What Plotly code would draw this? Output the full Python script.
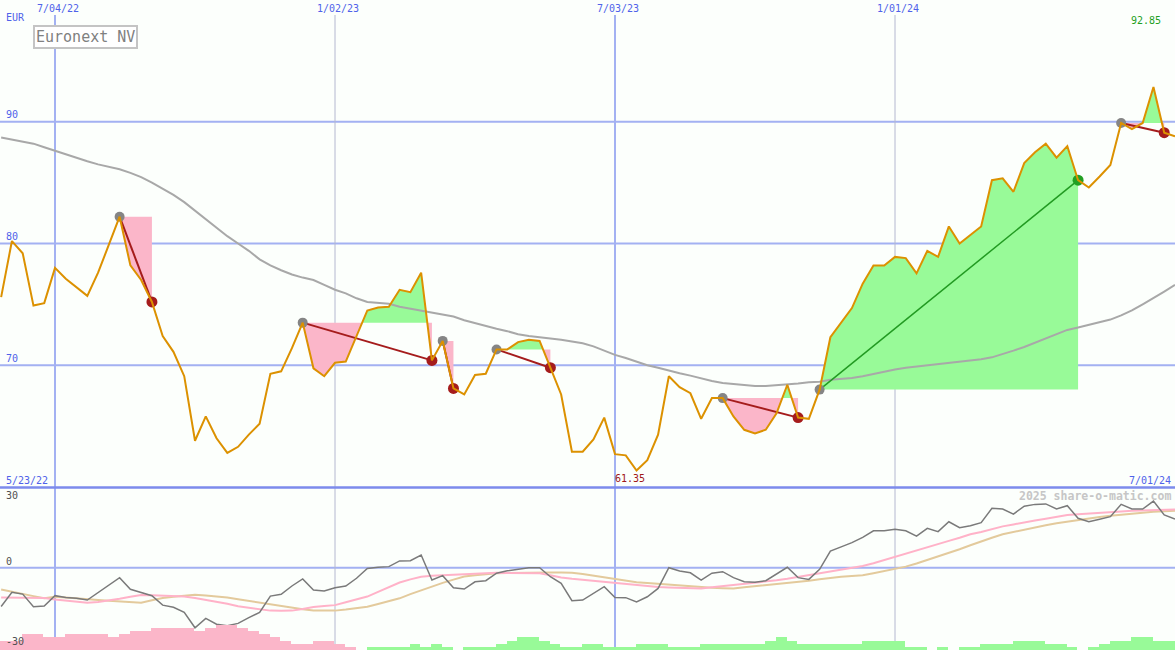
import numpy as np
import pandas as pd
import plotly.graph_objects as go

W, H = 1175, 650

# ---------------- data ----------------
start = pd.Timestamp("2022-05-30")
dates = pd.date_range(start, periods=110, freq="7D")

price = [75.6, 80.2, 79.2, 74.9, 75.1, 78.0, 77.1, 76.4, 75.7, 77.6,
         79.9, 82.2, 78.2, 77.0, 75.2, 72.4, 71.1, 69.1, 63.8, 65.8,
         64.0, 62.8, 63.3, 64.3, 65.2, 69.3, 69.5, 71.4, 73.5, 69.75,
         69.1, 70.2, 70.3, 72.35, 74.5, 74.75, 74.8, 76.2, 76.0, 77.6,
         70.4, 72.0, 68.1, 67.6, 69.2, 69.3, 71.3, 71.3, 71.9, 72.1,
         72.0, 69.8, 67.6, 62.9, 62.9, 63.9, 65.7, 62.7, 62.6, 61.35,
         62.2, 64.3, 69.1, 68.2, 67.7, 65.6, 67.3, 67.3, 65.8, 64.7,
         64.4, 64.7, 66.05, 68.4, 65.7, 65.6, 68.0, 72.3, 73.5, 74.7,
         76.7, 78.2, 78.2, 78.9, 78.8, 77.55, 79.4, 78.9, 81.4, 80.0,
         80.7, 81.4, 85.2, 85.35, 84.25, 86.6, 87.5, 88.2, 87.05, 88.0,
         85.2, 84.6, 85.5, 86.45, 89.9, 89.4, 89.9, 92.85, 89.1, 88.8]

ma = [88.7, 88.55, 88.4, 88.2, 87.9, 87.6, 87.3, 87.0, 86.75, 86.5,
      86.3, 86.1, 85.8, 85.45, 85.0, 84.5, 84.0, 83.4, 82.7, 82.0,
      81.3, 80.6, 80.0, 79.4, 78.7, 78.2, 77.8, 77.45, 77.2, 77.0,
      76.6, 76.2, 75.9, 75.5, 75.2, 75.15, 75.05, 74.8, 74.65, 74.5,
      74.35, 74.2, 74.0, 73.7, 73.45, 73.2, 73.0, 72.8, 72.55, 72.4,
      72.3, 72.25, 72.1, 71.95, 71.8, 71.55, 71.2, 70.85, 70.6, 70.3,
      70.0, 69.8, 69.55, 69.35, 69.15, 68.9, 68.7, 68.55, 68.45, 68.35,
      68.3, 68.3, 68.35, 68.4, 68.5, 68.6, 68.65, 68.8, 68.85, 68.95,
      69.1, 69.3, 69.45, 69.65, 69.8, 69.9, 70.0, 70.05, 70.15, 70.25,
      70.35, 70.5, 70.65, 70.9, 71.2, 71.5, 71.85, 72.2, 72.55, 72.9,
      73.1, 73.3, 73.5, 73.75, 74.1, 74.5, 75.0, 75.5, 76.05, 76.6]

momentum = [-17.6, -11.2, -12.0, -17.7, -17.4, -12.7, -13.5, -13.9, -14.7, -11.2,
            -8.0, -4.5, -9.8, -11.2, -12.7, -17.0, -18.0, -20.3, -27.3, -23.0,
            -25.7, -26.4, -25.3, -22.7, -20.3, -12.9, -12.1, -8.3, -5.1, -10.1,
            -10.6, -9.1, -8.3, -4.8, -0.3, 0.2, 0.5, 3.1, 3.2, 5.8,
            -5.6, -3.6, -9.1, -9.7, -6.4, -5.9, -2.5, -1.4, -0.6, 0.0,
            0.0, -4.1, -7.1, -15.0, -14.7, -11.6, -8.6, -13.5, -13.6, -15.5,
            -13.2, -9.4, 0.0, -1.5, -2.3, -5.6, -2.5, -1.8, -4.5, -6.4,
            -6.6, -5.9, -2.9, 0.2, -4.5, -5.3, -0.7, 7.6, 9.5, 11.4,
            13.8, 16.8, 16.8, 17.5, 16.8, 14.4, 17.9, 16.4, 20.9, 18.2,
            19.1, 20.5, 27.0, 26.7, 24.4, 28.0, 28.8, 29.0, 26.7, 28.2,
            22.5, 20.9, 22.0, 23.2, 28.8, 26.7, 26.7, 30.3, 24.0, 22.1]

signal_fast = [-13.5, -13.5, -13.5, -13.6, -13.8, -14.4, -14.9, -15.4, -15.9, -15.6,
               -15.0, -14.1, -13.2, -12.4, -12.5, -12.7, -12.9, -13.1, -13.8, -14.6,
               -15.5, -16.4, -17.5, -18.2, -19.0, -19.5, -19.6, -19.5, -18.8, -17.9,
               -17.4, -17.0, -15.7, -14.3, -13.1, -11.0, -8.8, -6.7, -5.3, -4.1,
               -3.7, -3.4, -3.2, -3.0, -2.7, -2.5, -2.3, -2.3, -2.3, -2.4,
               -2.5, -3.4, -4.4, -5.0, -5.5, -6.0, -6.4, -6.8, -7.4, -7.9,
               -8.5, -8.8, -9.0, -9.2, -9.3, -9.4, -8.9, -8.4, -7.9, -7.4,
               -6.9, -6.4, -5.7, -5.0, -4.2, -3.3, -2.6, -1.9, -1.0, 0.0,
               0.8, 2.0, 3.5, 4.8, 6.4, 7.9, 9.5, 10.9, 12.2, 13.6,
               15.2, 16.2, 17.6, 18.8, 19.7, 20.7, 21.5, 22.3, 23.2, 24.0,
               24.3, 24.7, 25.0, 25.3, 25.6, 25.9, 26.1, 26.3, 26.4, 26.5]

signal_slow = [-9.9, -10.8, -11.8, -12.9, -13.9, -13.2, -13.5, -14.0, -14.4, -14.7,
               -15.0, -15.3, -15.6, -15.9, -14.8, -13.8, -13.2, -12.6, -12.3, -12.6,
               -13.0, -13.5, -14.3, -15.1, -15.9, -16.7, -17.6, -18.3, -18.9, -19.4,
               -19.5, -19.5, -19.0, -18.4, -17.7, -16.5, -15.2, -13.9, -12.0, -10.2,
               -8.4, -6.9, -5.4, -4.0, -3.4, -2.9, -2.5, -2.4, -2.3, -2.1,
               -2.1, -2.2, -2.2, -2.3, -2.9, -3.6, -4.4, -5.2, -5.9, -6.6,
               -6.9, -7.3, -7.7, -8.1, -8.5, -8.9, -9.1, -9.3, -9.4, -8.9,
               -8.4, -7.9, -7.5, -7.1, -6.6, -5.9, -5.2, -4.5, -4.1, -3.8,
               -3.4, -2.5, -1.6, -0.6, 0.5, 1.9, 3.5, 5.0, 6.7, 8.4,
               10.2, 12.0, 13.6, 15.2, 16.3, 17.4, 18.4, 19.3, 20.2, 21.0,
               21.7, 22.4, 23.1, 23.6, 24.1, 24.6, 25.0, 25.4, 25.7, 25.9]

histogram = [-3, -3, -5, -5, -4, -4, -5, -5, -5, -5,
             -4, -5, -6, -6, -7, -7, -7, -7, -6, -7,
             -8, -8, -7, -6, -5, -4, -3, -2, -2, -3,
             -3, -2, -1, 0, 1, 1, 1, 1, 2, 1,
             2, 1, 0, 1, 1, 1, 2, 3, 4, 4,
             3, 2, 1, 1, 2, 2, 1, 1, 1, 2,
             2, 2, 1, 1, 1, 2, 2, 2, 2, 2,
             2, 3, 4, 3, 2, 2, 2, 2, 2, 2,
             3, 3, 3, 3, 1, 1, 0, 1, 0, 1,
             1, 2, 2, 2, 3, 3, 3, 2, 2, 1,
             0, 1, 2, 3, 3, 4, 4, 3, 3, 3]

trade_entries = [11, 28, 41, 46, 67, 76, 104]
trade_exits = [14, 40, 42, 51, 74, 100, 108]

vline_dates = ["2022-07-04", "2023-01-02", "2023-07-03", "2024-01-01"]
vline_labels = ["7/04/22", "1/02/23", "7/03/23", "1/01/24"]
price_levels = [70, 80, 90]

# ---------------- styles ----------------
BG = "#fcfffc"
ORANGE = "#dc9100"
PINK = "#fbb6c9"
GREEN = "#98fa98"
BLUE_GRID = "#a3b1f2"
BLUE_TXT = "#4f62ea"
MONO = "DejaVu Sans Mono"

def idx_to_date(t):
    return start + pd.to_timedelta(7 * t, unit="D")

def py(pix):
    return 1 - pix / H

fig = go.Figure()

# ---------- trade shaded regions ----------
for e, x in zip(trade_entries, trade_exits):
    level = price[e]
    ts, vs = [], []
    for i in range(e, x):
        ts.append(i); vs.append(price[i])
        a = price[i] - level
        b = price[i + 1] - level
        if a * b < 0:
            t = a / (a - b)
            ts.append(i + t); vs.append(level)
    ts.append(x); vs.append(price[x])
    xd = [idx_to_date(t) for t in ts]
    up = [max(v, level) for v in vs]
    lo = [min(v, level) for v in vs]
    for vals, col in ((up, GREEN), (lo, PINK)):
        fig.add_trace(go.Scatter(
            x=xd + xd[::-1], y=vals + [level] * len(xd),
            fill="toself", fillcolor=col, line=dict(width=0),
            mode="lines", hoverinfo="skip", showlegend=False))

# moving average
fig.add_trace(go.Scatter(x=dates, y=ma, mode="lines",
                         line=dict(color="#a8a8a8", width=2), showlegend=False))

# trade connectors and markers
for e, x in zip(trade_entries, trade_exits):
    win = price[x] > price[e]
    lcol = "#229a22" if win else "#a51c1c"
    fig.add_trace(go.Scatter(x=[dates[e], dates[x]], y=[price[e], price[x]],
                             mode="lines", line=dict(color=lcol, width=1.5 if win else 2),
                             showlegend=False))
    fig.add_trace(go.Scatter(x=[dates[e]], y=[price[e]], mode="markers",
                             marker=dict(color="#858585", size=10), showlegend=False))
    fig.add_trace(go.Scatter(x=[dates[x]], y=[price[x]], mode="markers",
                             marker=dict(color="#22a022" if win else "#a51c1c", size=11),
                             showlegend=False))

# price
fig.add_trace(go.Scatter(x=dates, y=price, mode="lines",
                         line=dict(color=ORANGE, width=2), showlegend=False))

# ---------- lower panel ----------
bar_x = dates + pd.Timedelta(days=3)
fig.add_trace(go.Bar(x=bar_x, y=[abs(v) for v in histogram],
                     marker=dict(color=[PINK if v < 0 else GREEN for v in histogram],
                                 line=dict(width=0)),
                     width=7 * 86400000, yaxis="y3", showlegend=False))
fig.add_trace(go.Scatter(x=dates, y=signal_slow, mode="lines", yaxis="y2",
                         line=dict(color="#e3ca9c", width=2), showlegend=False))
fig.add_trace(go.Scatter(x=dates, y=signal_fast, mode="lines", yaxis="y2",
                         line=dict(color="#ffb2c8", width=2), showlegend=False))
fig.add_trace(go.Scatter(x=dates, y=momentum, mode="lines", yaxis="y2",
                         line=dict(color="#7a7a7a", width=1.5), showlegend=False))

# ---------- shapes ----------
shapes = []
for lv in price_levels:
    shapes.append(dict(type="line", xref="paper", x0=0, x1=1, yref="y", y0=lv, y1=lv,
                       line=dict(color=BLUE_GRID, width=2), layer="below"))
shapes.append(dict(type="line", xref="paper", x0=0, x1=1, yref="y2", y0=0, y1=0,
                   line=dict(color=BLUE_GRID, width=2), layer="below"))
for d in vline_dates:
    thick = d.endswith("07-04") or d.endswith("07-03")
    shapes.append(dict(type="line", xref="x", x0=d, x1=d, yref="paper", y0=0, y1=py(15),
                       line=dict(color=BLUE_GRID if thick else "#b4b8d0", width=2 if thick else 1),
                       layer="below"))
shapes.append(dict(type="line", xref="paper", x0=0, x1=1, yref="paper", y0=py(487.5), y1=py(487.5),
                   line=dict(color="#7d8bec", width=2.5), layer="above"))

# ---------- annotations ----------
ann = []
def label(text, x, y, xref="paper", yref="paper", xanchor="left", color=BLUE_TXT, size=10,
          xshift=0, yshift=0, **kw):
    ann.append(dict(text=text, x=x, y=y, xref=xref, yref=yref, xanchor=xanchor,
                    yanchor="middle", showarrow=False, xshift=xshift, yshift=yshift,
                    font=dict(family=MONO, size=size, color=color), **kw))

for d, t in zip(vline_dates, vline_labels):
    label(t, d, py(8), xref="x", xanchor="center", xshift=3)
label("EUR", 4 / W, py(18))
for lv in price_levels:
    label(str(lv), 4 / W, lv, yref="y", yshift=7)
label("5/23/22", 4 / W, py(480))
label("7/01/24", 1173 / W, py(480), xanchor="right")
imin = int(np.argmin(price)); imax = int(np.argmax(price))
label(f"{price[imin]:.2f}", dates[imin], py(478), xref="x", xanchor="center",
      color="#a01818", xshift=-7)
label(f"{price[imax]:.2f}", dates[imax], py(21), xref="x", xanchor="center",
      color="#1f9f1f", xshift=-7)
ann.append(dict(text="Euronext NV", x=33 / W, y=py(25), xref="paper", yref="paper",
                xanchor="left", yanchor="top", showarrow=False,
                font=dict(family=MONO, size=15, color="#808080"),
                bordercolor="#c4c4c4", borderwidth=2, borderpad=1, bgcolor="#ffffff"))
for v in (30, 0):
    label(str(v), 4 / W, v, yref="y2", yshift=6, color="#505050")
label("-30", 4 / W, py(641), color="#505050")
label("<b>2025 share-o-matic.com</b>", 1173 / W, py(496), xanchor="right",
      color="#c6c6c6", size=11.5)

fig.update_layout(
    width=W, height=H, margin=dict(l=0, r=0, t=0, b=0),
    paper_bgcolor=BG, plot_bgcolor=BG, showlegend=False, bargap=0,
    xaxis=dict(range=[idx_to_date(-0.107), dates[-1]], visible=False, showgrid=False,
               fixedrange=True),
    yaxis=dict(domain=[py(487), 1], range=[60, 100], visible=False, showgrid=False),
    yaxis2=dict(domain=[0, py(487)], range=[-37.4, 36.7], visible=False, showgrid=False),
    yaxis3=dict(overlaying="y2", range=[0, 51.7], visible=False, showgrid=False),
    shapes=shapes, annotations=ann,
)

fig.write_html("out.html", config={"displayModeBar": False},
               post_script="document.body.style.margin='0';document.body.style.overflow='hidden';")
